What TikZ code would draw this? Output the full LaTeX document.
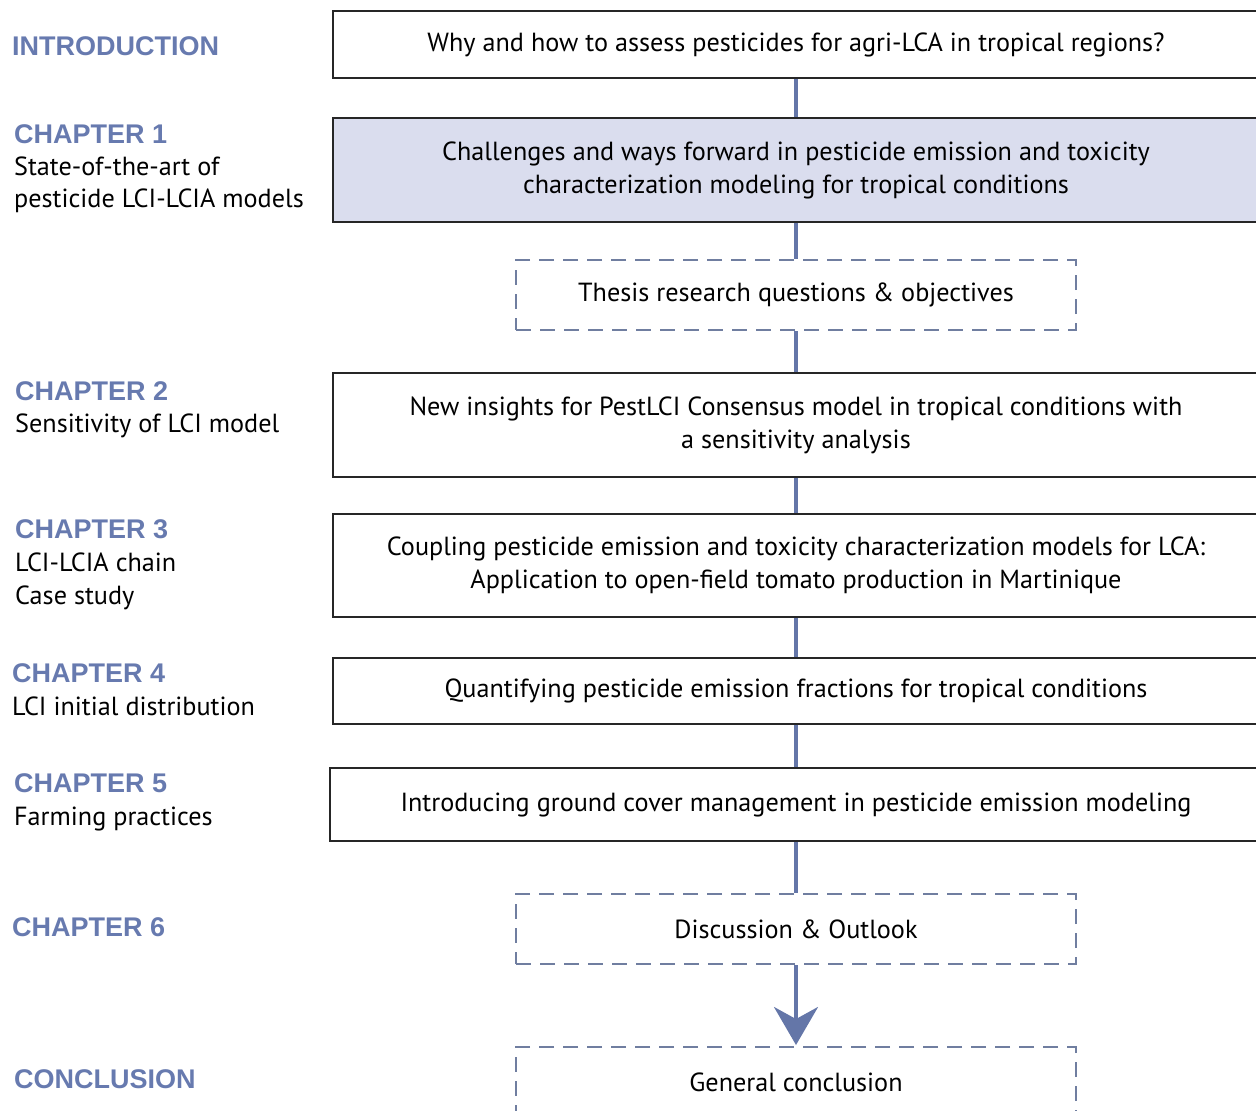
\documentclass[tikz,border=0pt]{standalone}
\usepackage{fontspec}
\setmainfont{PT Sans}
\newfontfamily\headfont{Liberation Sans}
\usetikzlibrary{positioning,arrows.meta}

\definecolor{chapblue}{RGB}{103,122,175}
\definecolor{linkblue}{RGB}{100,118,168}
\definecolor{boxfill}{RGB}{218,221,238}
\definecolor{dashgray}{RGB}{112,126,160}

\tikzset{
  mainbox/.style={draw=black!85, line width=2pt, minimum width=926pt, align=center,
    inner sep=0pt, font=\fontsize{26.2}{33}\selectfont},
  dashbox/.style={draw=dashgray, line width=2pt, dash pattern=on 15pt off 9pt,
    minimum width=560pt, minimum height=70pt, inner sep=0pt, font=\fontsize{26.2}{33}\selectfont},
  chaphead/.style={anchor=base west, text=chapblue, inner sep=0pt,
    font=\headfont\bfseries\fontsize{27}{30}\selectfont},
  chapdesc/.style={anchor=base west, inner sep=0pt, font=\fontsize{26.2}{33}\selectfont},
  link/.style={draw=linkblue, line width=3.5pt}
}

\begin{document}
\begin{tikzpicture}[x=1pt,y=1pt]
  \useasboundingbox (0,0) rectangle (1256,-1111);

  % boxes of the thesis outline
  \node[mainbox, minimum height=67pt] (intro) at (796,-44.5)
    {Why and how to assess pesticides for agri-LCA in tropical regions?};
  \node[mainbox, minimum height=104pt, fill=boxfill] (chone) at (796,-170)
    {Challenges and ways forward in pesticide emission and toxicity\\characterization modeling for tropical conditions};
  \node[dashbox] (questions) at (796,-295) {Thesis research questions \& objectives};
  \node[mainbox, minimum height=104pt] (chtwo) at (796,-425)
    {New insights for PestLCI Consensus model in tropical conditions with\\a sensitivity analysis};
  \node[mainbox, minimum height=103pt] (chthree) at (796,-565.5)
    {Coupling pesticide emission and toxicity characterization models for LCA:\\Application to open-field tomato production in Martinique};
  \node[mainbox, minimum height=66pt] (chfour) at (796,-691)
    {Quantifying pesticide emission fractions for tropical conditions};
  \node[mainbox, minimum height=73pt, minimum width=932pt] (chfive) at (796,-804.5)
    {Introducing ground cover management in pesticide emission modeling};
  \node[dashbox] (discussion) at (796,-929) {Discussion \& Outlook};
  \node[dashbox] (conclusion) at (796,-1082) {General conclusion};

  % connectors
  \draw[link] (intro) -- (chone);
  \draw[link] (chone) -- (questions);
  \draw[link] (questions) -- (chtwo);
  \draw[link] (chtwo) -- (chthree);
  \draw[link] (chthree) -- (chfour);
  \draw[link] (chfour) -- (chfive);
  \draw[link] (chfive) -- (discussion);
  \draw[link, -{Stealth[length=38pt, width=44pt, inset=12pt]}, shorten >=1pt] (discussion) -- (conclusion);

  % chapter labels
  \node[chaphead] (lblintro) at (12,-55) {INTRODUCTION};
  \node[chaphead] (lblone) at (14,-143) {CHAPTER 1};
  \node[chapdesc] (descone) at (14,-175) {State-of-the-art of};
  \node[chapdesc] (desconeb) at (14,-207) {pesticide LCI-LCIA models};
  \node[chaphead] (lbltwo) at (15,-400) {CHAPTER 2};
  \node[chapdesc] (desctwo) at (15,-432) {Sensitivity of LCI model};
  \node[chaphead] (lblthree) at (15,-538) {CHAPTER 3};
  \node[chapdesc] (descthree) at (15,-571) {LCI-LCIA chain};
  \node[chapdesc] (descthreeb) at (15,-604) {Case study};
  \node[chaphead] (lblfour) at (12,-682) {CHAPTER 4};
  \node[chapdesc] (descfour) at (12,-715) {LCI initial distribution};
  \node[chaphead] (lblfive) at (14,-792) {CHAPTER 5};
  \node[chapdesc] (descfive) at (14,-825) {Farming practices};
  \node[chaphead] (lblsix) at (12,-936) {CHAPTER 6};
  \node[chaphead] (lblconcl) at (14,-1088) {CONCLUSION};
\end{tikzpicture}
\end{document}
